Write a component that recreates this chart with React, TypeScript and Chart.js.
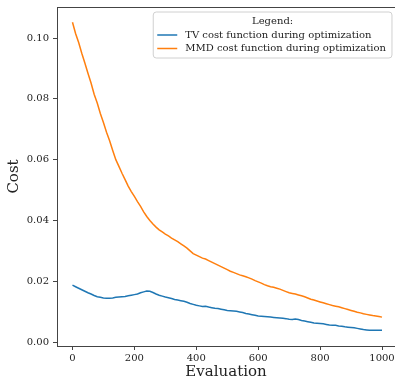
import React, { useEffect, useRef } from "react";
import { Chart, registerables } from "chart.js";

Chart.register(...registerables);

const evaluations: number[] = [
  0, 10, 20, 30, 40, 50, 60, 70, 80, 90,
  100, 110, 120, 130, 140, 150, 160, 170, 180, 190,
  200, 210, 220, 230, 240, 250, 260, 270, 280, 290,
  300, 310, 320, 330, 340, 350, 360, 370, 380, 390,
  400, 410, 420, 430, 440, 450, 460, 470, 480, 490,
  500, 510, 520, 530, 540, 550, 560, 570, 580, 590,
  600, 610, 620, 630, 640, 650, 660, 670, 680, 690,
  700, 710, 720, 730, 740, 750, 760, 770, 780, 790,
  800, 810, 820, 830, 840, 850, 860, 870, 880, 890,
  900, 910, 920, 930, 940, 950, 960, 970, 980, 990,
  1000,
];

const tvCost: number[] = [
  0.0187, 0.0182, 0.0177, 0.0172, 0.0167, 0.0162, 0.0158, 0.0153, 0.0149, 0.0147,
  0.0145, 0.0144, 0.0144, 0.0145, 0.0147, 0.0148, 0.0149, 0.015, 0.0152, 0.0154,
  0.0156, 0.0158, 0.0162, 0.0165, 0.0168, 0.0167, 0.0163, 0.0158, 0.0154, 0.0151,
  0.0148, 0.0146, 0.0143, 0.014, 0.0138, 0.0136, 0.0134, 0.0131, 0.0127, 0.0124,
  0.0121, 0.0119, 0.0117, 0.0118, 0.0115, 0.0113, 0.0111, 0.011, 0.0108, 0.0106,
  0.0104, 0.0103, 0.0102, 0.0101, 0.0099, 0.0097, 0.0094, 0.0092, 0.009, 0.0088,
  0.0086, 0.0085, 0.0084, 0.0083, 0.0082, 0.0081, 0.008, 0.0079, 0.0078, 0.0077,
  0.0075, 0.0074, 0.0076, 0.0074, 0.0071, 0.0069, 0.0067, 0.0065, 0.0063, 0.0062,
  0.0061, 0.006, 0.0058, 0.0056, 0.0055, 0.0055, 0.0053, 0.0052, 0.005, 0.0049,
  0.0048, 0.0047, 0.0045, 0.0043, 0.0041, 0.004, 0.0039, 0.0039, 0.0039, 0.0039,
  0.0039,
];

const mmdCost: number[] = [
  0.1052, 0.1015, 0.0985, 0.095, 0.0918, 0.0884, 0.0852, 0.0815, 0.0786, 0.0752,
  0.0722, 0.069, 0.0662, 0.063, 0.06, 0.0578, 0.0555, 0.0534, 0.0513, 0.0495,
  0.0479, 0.0462, 0.0446, 0.0428, 0.0413, 0.04, 0.0388, 0.0378, 0.0369, 0.0362,
  0.0355, 0.0349, 0.0342, 0.0336, 0.033, 0.0323, 0.0316, 0.0309, 0.03, 0.0291,
  0.0286, 0.0281, 0.0276, 0.0273, 0.0268, 0.0263, 0.0258, 0.0253, 0.0248, 0.0243,
  0.0238, 0.0233, 0.0229, 0.0225, 0.0221, 0.0218, 0.0215, 0.0211, 0.0207, 0.0202,
  0.0198, 0.0194, 0.0189, 0.0185, 0.0182, 0.018, 0.0177, 0.0174, 0.017, 0.0166,
  0.0162, 0.016, 0.0158, 0.0155, 0.0152, 0.0149, 0.0145, 0.0141, 0.0138, 0.0135,
  0.0132, 0.0129, 0.0126, 0.0123, 0.012, 0.0118, 0.0116, 0.0113, 0.011, 0.0107,
  0.0104, 0.0101, 0.0098, 0.0096, 0.0093, 0.0091, 0.0089, 0.0087, 0.0086, 0.0084,
  0.0082,
];

const seriesLabels: string[] = [
  "TV cost function during optimization",
  "MMD cost function during optimization",
];
const legendTitle = "Legend:";
const xTicks: number[] = [0, 200, 400, 600, 800, 1000];
const yTicks: number[] = [0.0, 0.02, 0.04, 0.06, 0.08, 0.1];
const xTitle = "Evaluation";
const yTitle = "Cost";
const xAxisEnd = 1050; // axes frame right edge (just beyond the picture)

const FONT = '"DejaVu Serif", serif';
const SPINE = "#444";
const TEXT = "#222";

const framePlugin = {
  id: "mplFrame",
  afterDraw(chart: any) {
    const { ctx, chartArea } = chart;
    const { left, right, top } = chartArea;
    ctx.save();
    ctx.strokeStyle = SPINE;
    ctx.lineWidth = 1;
    ctx.beginPath();
    ctx.moveTo(left, Math.round(top) + 0.5);
    ctx.lineTo(right, Math.round(top) + 0.5);
    ctx.stroke();

    // legend, anchored to the (off-picture) right edge of the axes frame
    ctx.font = `10px ${FONT}`;
    const datasets = chart.data.datasets;
    const textW = Math.max(...datasets.map((d: any) => ctx.measureText(d.label).width));
    const pad = 4, handle = 20, gap = 8;
    const w = pad + handle + gap + textW + pad + 2;
    const h = 46;
    const frameRight = chart.scales.x.getPixelForValue(xAxisEnd);
    const x1 = frameRight - 5.5;
    const x0 = x1 - w;
    const y0 = top + 5;
    const r = 3;
    ctx.beginPath();
    ctx.moveTo(x0 + r, y0);
    ctx.lineTo(x1 - r, y0);
    ctx.arcTo(x1, y0, x1, y0 + r, r);
    ctx.lineTo(x1, y0 + h - r);
    ctx.arcTo(x1, y0 + h, x1 - r, y0 + h, r);
    ctx.lineTo(x0 + r, y0 + h);
    ctx.arcTo(x0, y0 + h, x0, y0 + h - r, r);
    ctx.lineTo(x0, y0 + r);
    ctx.arcTo(x0, y0, x0 + r, y0, r);
    ctx.closePath();
    ctx.fillStyle = "rgba(255,255,255,0.8)";
    ctx.fill();
    ctx.strokeStyle = "#d0d0d0";
    ctx.lineWidth = 1;
    ctx.stroke();

    ctx.fillStyle = TEXT;
    ctx.textBaseline = "middle";
    ctx.textAlign = "center";
    ctx.fillText(legendTitle, (x0 + x1) / 2, y0 + 9);
    ctx.textAlign = "left";
    datasets.forEach((d: any, i: number) => {
      const cy = y0 + 23 + i * 13.5;
      ctx.strokeStyle = d.borderColor;
      ctx.lineWidth = 1.5;
      ctx.beginPath();
      ctx.moveTo(x0 + pad, cy);
      ctx.lineTo(x0 + pad + handle, cy);
      ctx.stroke();
      ctx.fillStyle = TEXT;
      ctx.fillText(d.label, x0 + pad + handle + gap, cy);
    });
    ctx.beginPath();
    ctx.restore();
  },
};

export default function App() {
  const ref = useRef<HTMLCanvasElement>(null);

  useEffect(() => {
    if (!ref.current) return;
    const chart = new Chart(ref.current, {
      type: "line",
      data: {
        datasets: [
          {
            label: seriesLabels[0],
            data: evaluations.map((e, i) => ({ x: e, y: tvCost[i] })),
            borderColor: "#1f77b4",
            backgroundColor: "#1f77b4",
            borderWidth: 1.5,
            pointRadius: 0,
            tension: 0,
          },
          {
            label: seriesLabels[1],
            data: evaluations.map((e, i) => ({ x: e, y: mmdCost[i] })),
            borderColor: "#ff7f0e",
            backgroundColor: "#ff7f0e",
            borderWidth: 1.5,
            pointRadius: 0,
            tension: 0,
          },
        ],
      },
      options: {
        animation: false,
        responsive: false,
        layout: { padding: { top: 7, right: 0, left: 0, bottom: 0 } },
        plugins: {
          legend: { display: false },
          tooltip: { enabled: false },
        },
        scales: {
          x: {
            type: "linear",
            min: -50,
            max: 1042,
            afterBuildTicks: (scale: any) => {
              scale.ticks = xTicks.map((v) => ({ value: v }));
            },
            afterFit: (scale: any) => {
              scale.height = 34;
              scale.paddingLeft = 0;
              scale.paddingRight = 0;
            },
            grid: {
              display: true,
              drawOnChartArea: false,
              drawTicks: true,
              tickLength: 4,
              color: SPINE,
            },
            border: { display: true, color: SPINE, width: 1 },
            ticks: {
              color: TEXT,
              font: { family: FONT, size: 10 },
              padding: 2,
              maxRotation: 0,
              callback: (v: any) => String(v),
            },
            title: {
              display: true,
              text: xTitle,
              color: TEXT,
              font: { family: FONT, size: 15, lineHeight: 1 },
              padding: { top: 0, bottom: 0 },
            },
          },
          y: {
            type: "linear",
            min: -0.0013,
            max: 0.1102,
            afterBuildTicks: (scale: any) => {
              scale.ticks = yTicks.map((v) => ({ value: v }));
            },
            afterFit: (scale: any) => {
              scale.width = 57;
              scale.paddingTop = 0;
              scale.paddingBottom = 0;
            },
            grid: {
              display: true,
              drawOnChartArea: false,
              drawTicks: true,
              tickLength: 4,
              color: SPINE,
            },
            border: { display: true, color: SPINE, width: 1 },
            ticks: {
              color: TEXT,
              font: { family: FONT, size: 10 },
              padding: 4,
              callback: (v: any) => Number(v).toFixed(2),
            },
            title: {
              display: true,
              text: yTitle,
              color: TEXT,
              font: { family: FONT, size: 15, lineHeight: 1 },
              padding: { top: 7, bottom: 0 },
            },
          },
        },
      },
      plugins: [framePlugin],
    });
    return () => chart.destroy();
  }, []);

  return (
    <div style={{ position: "fixed", left: 0, top: 0, width: 395, height: 380, background: "#fff", overflow: "hidden" }}>
      <canvas ref={ref} width={395} height={380} style={{ display: "block" }} />
    </div>
  );
}
